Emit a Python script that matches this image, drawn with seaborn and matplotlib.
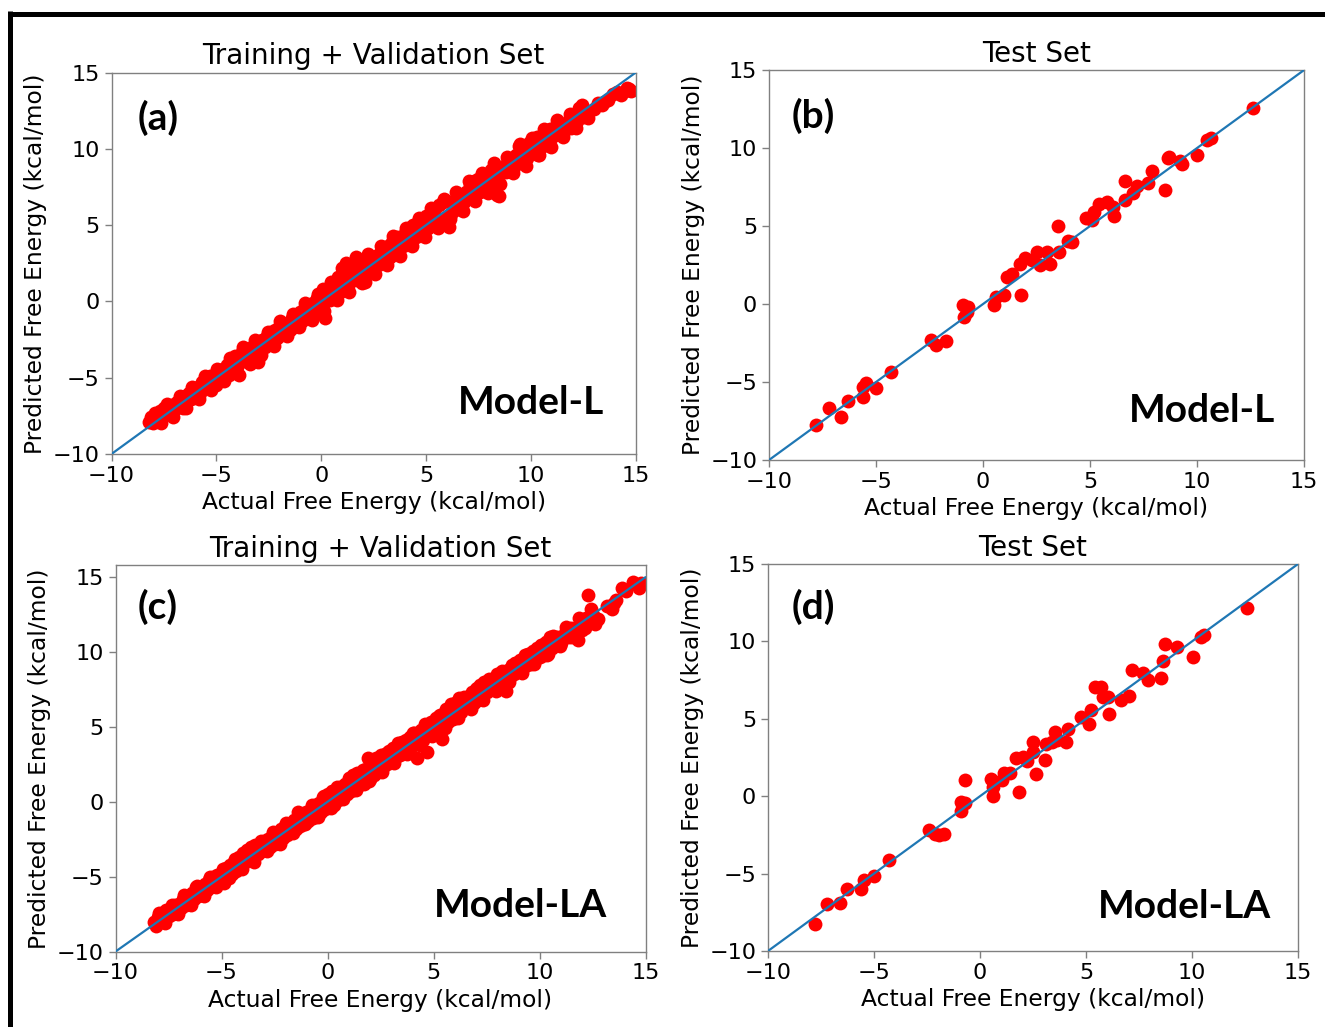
import matplotlib
matplotlib.use("Agg")
import matplotlib.pyplot as plt
from matplotlib.lines import Line2D
import seaborn as sns
import pandas as pd

# ---- data ----
# (a) Model-L, training + validation
train_L_actual = [
    -8.2, -8.1, -8.0, -7.9, -7.8, -7.7, -7.6, -7.5, -7.4, -7.3, -7.2, -7.1, -7.0, -6.9, -6.8, -6.7,
    -6.6, -6.5, -6.4, -6.3, -6.2, -6.1, -6.0,
    -5.9, -5.8, -5.7, -5.6, -5.5, -5.4, -5.3, -5.2, -5.1, -5.0, -4.9, -4.8, -4.7, -4.6, -4.5, -4.4,
    -4.3, -4.2, -4.1, -4.0, -3.9, -3.8, -3.7, -3.6, -3.5, -3.4, -3.3, -3.2, -3.1, -3.0, -2.9,
    -2.8, -2.7, -2.6, -2.5, -2.4, -2.3, -2.2, -2.1, -2.0, -1.9, -1.8, -1.7, -1.6, -1.5, -1.4, -1.3,
    -1.2, -1.1, -1.0, -0.9, -0.8, -0.7, -0.6, -0.5, -0.4, -0.3, -0.2, -0.1, 0.0, 0.1, 0.2, 0.3, 0.1,
    0.4, 0.5, 0.6, 0.7, 0.8, 0.9, 1.0, 1.1, 1.2, 1.3, 1.4, 1.5, 1.6, 1.7, 1.8, 1.9, 2.0, 2.1, 2.2,
    2.3, 2.4, 2.5, 2.6, 2.7, 2.8, 2.9, 3.0, 3.1,
    3.2, 3.3, 3.4, 3.5, 3.6, 3.7, 3.8, 3.9, 4.0, 4.1, 4.2, 4.3, 4.4, 4.5, 4.6, 4.7, 4.8, 4.9, 5.0,
    5.1, 5.2, 5.3, 5.4, 5.5, 5.6, 5.7, 5.8, 5.9, 6.0, 6.1, 6.2,
    6.3, 6.4, 6.5, 6.6, 6.7, 6.8, 6.9, 7.0, 7.1, 7.2, 7.3, 7.4, 7.5, 7.6, 7.7, 7.8, 7.9, 8.0, 8.1,
    8.2, 8.3, 8.4, 8.5, 8.6, 8.7, 8.8, 8.9, 9.0,
    9.1, 9.2, 9.3, 9.4, 9.5, 9.6, 9.7, 9.8, 9.9, 10.0, 10.1, 10.2, 10.3, 10.4, 10.5, 10.6, 10.7,
    10.8, 10.9, 11.0, 11.2, 11.3, 11.5, 11.6, 11.8, 11.9,
    12.1, 12.2, 12.3, 12.4, 12.5, 12.6, 13.2, 13.4, 13.5, 13.9, 14.1, 14.5, 14.7, 14.8,
    # outer edge of the band
    -7.95, -7.65, -7.35, -7.05, -6.75, -6.45, -6.15, -5.85, -5.55, -5.25, -4.95, -4.65, -4.35,
    -4.05, -3.75, -3.45, -3.15, -2.85, -2.55, -2.25, -1.95, -1.65, -1.35, -1.05, -0.75, -0.45,
    -0.15, 0.15, 0.45, 0.75, 1.05, 1.35, 1.65, 1.95, 2.25, 2.55, 2.85, 3.15, 3.45, 3.75, 4.05,
    4.35, 4.65, 4.95, 5.25, 5.55, 5.85, 6.15, 6.45, 6.75, 7.05, 7.35, 7.65, 7.95, 8.25, 8.55,
    8.85, 9.15, 9.45, 9.75, 10.05, 10.35, 10.65, 10.95, 11.25, 11.55, 11.85, 12.15, 12.45, 12.75,
    13.0, 13.7, 14.3, 14.6,
]
train_L_pred = [
    -7.9, -7.6, -8.0, -7.4, -7.5, -7.2, -7.6, -7.0, -7.3, -6.9, -7.4, -6.8, -7.1, -6.6, -6.9, -6.4,
    -7.0, -6.2, -6.5, -6.0, -6.4, -5.8, -6.2,
    -5.6, -6.0, -5.3, -5.7, -5.0, -5.6, -4.9, -5.3, -4.8, -5.5, -4.6, -5.1, -4.4, -4.9, -4.2, -4.8,
    -4.0, -4.5, -3.6, -4.3, -4.8, -3.3, -3.9, -3.1, -3.7, -4.1, -3.0, -3.5, -2.8, -4.0, -3.3,
    -2.5, -3.0, -2.3, -2.7, -2.0, -2.6, -1.9, -2.4, -1.7, -2.2, -1.5, -2.0, -1.4, -1.9, -1.1, -1.7,
    -0.9, -1.5, -0.7, -1.3, -0.5, -1.1, -0.3, -0.9, -0.1, -0.7, 0.2, -0.5, 0.4, -0.2, -1.1, 0.6, 0.8,
    0.1, 1.0, 0.3, 0.9, 1.6, 0.6, 2.2, 1.3, 2.5, 1.0, 2.4, 1.6, 2.6, 1.4, 2.5, 1.9, 2.7, 1.3, 2.5,
    2.0, 2.8, 2.2, 3.0, 2.4, 3.2, 2.6, 3.3, 2.8,
    3.6, 2.9, 3.9, 3.2, 4.2, 3.4, 4.0, 3.6, 4.5, 3.8, 4.8, 4.0, 5.0, 4.2, 5.2, 4.5, 5.4, 4.7, 5.6,
    4.8, 5.7, 5.0, 6.0, 5.2, 6.3, 5.4, 6.5, 5.5, 6.6, 4.9, 5.7,
    6.5, 6.0, 6.8, 6.2, 7.0, 6.5, 7.2, 6.8, 7.6, 6.9, 7.9, 7.1, 8.0, 7.2, 8.2, 7.5, 8.3, 7.6, 8.6,
    7.8, 7.5, 7.0, 6.9, 8.4, 8.9, 8.5, 9.1, 8.6,
    9.4, 8.8, 9.6, 9.1, 10.3, 9.3, 10.0, 9.4, 10.4, 9.7, 10.5, 9.9, 10.8, 9.6, 10.7, 10.2, 11.1,
    10.6, 11.3, 10.8, 11.5, 11.0, 11.6, 11.2, 11.9, 11.4,
    12.0, 11.8, 12.7, 12.2, 12.1, 12.5, 13.0, 12.9, 13.1, 13.6, 13.7, 13.8, 13.9, 13.8,
    -7.3, -8.0, -6.7, -7.6, -6.2, -7.0, -5.6, -6.4, -4.9, -5.8, -4.4, -5.2, -3.7,
    -4.7, -3.0, -4.0, -2.5, -3.5, -2.0, -2.9, -1.3, -2.3, -0.8, -1.7, -0.1, -1.2,
    0.5, -0.6, 1.3, 0.1, 1.9, 0.6, 2.9, 1.2, 3.1, 1.8, 3.6, 2.4, 4.3, 3.0, 4.8,
    3.6, 5.5, 4.2, 6.1, 4.8, 6.7, 5.4, 7.2, 5.9, 7.9, 6.6, 8.4, 7.1, 9.1, 7.7,
    9.5, 8.4, 10.2, 8.9, 10.7, 9.6, 11.3, 10.1, 11.9, 10.8, 12.3, 11.4, 12.9, 12.0,
    12.6, 13.2, 13.5, 14.0,
]

# (b) Model-L, test set
test_L_actual = [
    -7.82, -7.22, -6.63, -6.33, -5.60, -5.60, -5.46, -5.00, -4.31, -2.42, -2.18, -1.71, -0.93,
    -0.69, -0.89, -0.73, 0.52, 0.62, 0.99, 1.79, 1.11, 1.37, 1.71, 1.98, 2.30, 2.50, 2.64, 2.98,
    3.15, 3.53, 3.49, 3.99, 4.17, 4.82, 5.08, 5.18, 5.42, 5.77, 6.07, 6.11, 6.61, 6.61, 7.00, 7.20,
    7.70, 7.90, 8.49, 8.63, 8.69, 9.29, 9.19, 9.98, 10.48, 10.63, 12.60,
]
test_L_pred = [
    -7.76, -6.69, -7.26, -6.22, -5.98, -5.34, -5.09, -5.41, -4.34, -2.31, -2.63, -2.35, -0.06,
    -0.21, -0.81, -0.49, -0.06, 0.47, 0.58, 0.56, 1.75, 1.92, 2.54, 2.93, 2.82, 3.31, 2.50, 3.35,
    2.54, 3.35, 5.02, 4.06, 3.97, 5.53, 5.38, 5.90, 6.41, 6.52, 6.24, 5.64, 6.67, 7.88, 7.14, 7.56,
    7.78, 8.55, 7.31, 9.34, 9.44, 8.95, 9.19, 9.55, 10.51, 10.66, 12.54,
]

# (c) Model-LA, training + validation
train_LA_actual = [
    -8.2, -8.1, -8.0, -7.9, -7.8, -7.7, -7.6, -7.5, -7.4, -7.3, -7.2, -7.1, -7.0, -6.9, -6.8, -6.7,
    -6.6, -6.5, -6.4, -6.3, -6.2, -6.1,
    -6.0, -5.9, -5.8, -5.7, -5.6, -5.5, -5.4, -5.3, -5.2, -5.1, -5.0, -4.9, -4.8, -4.7, -4.6, -4.5,
    -4.4, -4.3, -4.2, -4.1, -4.0, -3.9, -3.8, -3.7, -3.6, -3.5, -3.4, -3.3, -3.2, -3.1, -3.0, -2.9,
    -2.8, -2.7, -2.6, -2.5, -2.4, -2.3, -2.2, -2.1, -2.0, -1.9, -1.8, -1.7, -1.6, -1.5, -1.4, -1.3,
    -1.2, -1.1, -1.0, -0.9, -0.8, -0.7, -0.6, -0.5, -0.4, -0.3, -0.2, -0.1, 0.0, 0.1, 0.2, 0.3,
    0.4, 0.5, 0.6, 0.7, 0.8, 0.9, 1.0, 1.1, 1.2, 1.3, 1.4, 1.5, 1.6, 1.7, 1.8, 1.9, 2.0, 2.1, 2.2,
    2.3, 2.4, 2.5, 2.6, 2.7, 2.8, 2.9, 3.0, 3.1,
    3.2, 3.3, 3.4, 3.5, 3.6, 3.7, 3.8, 3.9, 4.0, 4.1, 4.2, 4.3, 4.4, 4.5, 4.6, 4.7, 4.8, 4.9, 5.0,
    5.1, 5.2, 5.3, 5.4, 5.5, 5.6, 5.7, 5.8, 5.9, 6.0, 6.1,
    6.2, 6.3, 6.4, 6.5, 6.6, 6.7, 6.8, 6.9, 7.0, 7.1, 7.2, 7.3, 7.4, 7.5, 7.6, 7.7, 7.8, 7.9, 8.0,
    8.1, 8.2, 8.3, 8.4, 8.5, 8.6, 8.7, 8.8, 8.9, 9.0,
    9.1, 9.2, 9.3, 9.4, 9.5, 9.6, 9.7, 9.8, 9.9, 10.0, 10.1, 10.2, 10.3, 10.4, 10.5, 10.6, 10.8,
    11.0, 11.2, 11.4, 11.5, 11.7, 11.8, 11.9, 12.0,
    12.2, 12.3, 12.4, 12.5, 12.6, 13.2, 13.4, 13.5, 13.9, 14.4, 14.7, 14.8,
    # outer edge of the band
    -7.95, -7.65, -7.35, -7.05, -6.75, -6.45, -6.15, -5.85, -5.55, -5.25, -4.95, -4.65, -4.35,
    -4.05, -3.75, -3.45, -3.15, -2.85, -2.55, -2.25, -1.95, -1.65, -1.35, -1.05, -0.75, -0.45,
    -0.15, 0.15, 0.45, 0.75, 1.05, 1.35, 1.65, 1.95, 2.25, 2.55, 2.85, 3.15, 3.45, 3.75, 4.05,
    4.35, 4.65, 4.95, 5.25, 5.55, 5.85, 6.15, 6.45, 6.75, 7.05, 7.35, 7.65, 7.95, 8.25, 8.55,
    8.85, 9.15, 9.45, 9.75, 10.05, 10.35, 10.65, 10.95, 11.25, 11.55, 11.85, 12.15, 12.45, 12.75,
    13.6, 14.1,
]
train_LA_pred = [
    -8.0, -8.3, -7.7, -8.0, -7.4, -7.8, -7.2, -7.6, -7.1, -7.5, -6.9, -7.4, -6.8, -7.1, -6.5, -6.9,
    -6.3, -6.7, -6.1, -6.5, -5.7, -6.3,
    -5.8, -6.2, -5.5, -5.9, -5.2, -5.7, -5.0, -5.5, -4.9, -5.3, -4.8, -5.4, -4.4, -4.9, -4.2, -4.8,
    -4.0, -4.6, -3.7, -4.3, -3.4, -4.0, -3.2, -3.8, -3.0, -3.6, -2.9, -3.5, -2.8, -3.3, -2.6, -3.2,
    -2.5, -3.0, -2.3, -2.8, -2.1, -2.6, -1.8, -2.4, -1.6, -2.2, -1.5, -2.0, -1.2, -1.8, -0.7, -1.6,
    -0.9, -1.5, -0.7, -1.3, -0.5, -1.1, -0.2, -0.9, -0.1, -0.7, 0.3, -0.5, 0.5, -0.3, 0.7, -0.2,
    0.8, 0.1, 1.0, 0.3, 1.2, 0.5, 1.6, 0.7, 1.8, 0.9, 1.9, 1.1, 1.9, 1.2, 2.2, 2.9, 1.5, 2.5, 1.8,
    2.9, 2.0, 3.1, 2.3, 3.2, 2.5, 3.4, 2.7, 3.6,
    2.9, 3.9, 3.1, 4.0, 3.3, 4.1, 3.5, 4.3, 3.7, 4.6, 2.9, 4.0, 4.8, 4.1, 5.2, 3.3, 4.5, 5.3, 4.7,
    5.6, 4.8, 5.8, 4.2, 5.2, 6.2, 5.3, 6.5, 5.5, 6.6, 5.8,
    6.9, 6.0, 6.8, 6.4, 7.0, 6.5, 7.3, 6.6, 7.5, 6.8, 7.8, 7.0, 8.0, 7.3, 8.2, 7.6, 8.1, 7.6, 8.5,
    7.8, 8.6, 7.6, 7.4, 8.8, 8.3, 9.1, 8.5, 9.3, 8.7,
    9.5, 8.9, 9.8, 9.1, 9.9, 9.2, 10.1, 9.5, 10.3, 9.7, 10.5, 9.8, 10.7, 9.9, 11.0, 10.3, 11.0,
    10.6, 11.3, 11.0, 11.6, 11.2, 10.8, 11.9, 11.5,
    12.3, 13.8, 12.0, 12.5, 11.9, 13.1, 12.9, 13.3, 14.3, 14.7, 14.3, 14.6,
    -7.4, -8.1, -6.9, -7.5, -6.2, -6.9, -5.6, -6.3, -5.0, -5.7, -4.5, -5.1, -3.8,
    -4.5, -3.2, -4.0, -2.6, -3.3, -2.0, -2.8, -1.4, -2.1, -0.9, -1.5, -0.2, -1.0,
    0.4, -0.4, 1.0, 0.2, 1.6, 0.8, 2.1, 1.4, 2.7, 2.0, 3.3, 2.6, 3.9, 3.2, 4.6,
    3.8, 5.1, 4.4, 5.7, 4.9, 6.3, 5.6, 7.0, 6.2, 7.6, 6.8, 8.1, 7.4, 8.7, 8.0,
    9.3, 8.6, 9.9, 9.2, 10.5, 9.8, 11.1, 10.4, 11.7, 11.0, 12.3, 11.6, 12.9, 12.2,
    13.5, 14.1,
]

# (d) Model-LA, test set
test_LA_actual = [
    -7.80, -7.20, -6.59, -6.29, -5.59, -5.49, -4.99, -4.29, -2.39, -2.13, -1.93, -1.69, -0.89,
    -0.89, -0.69, -0.72, 0.62, 0.62, 0.52, 1.02, 1.12, 1.42, 1.82, 1.72, 2.02, 2.22, 2.48, 2.52,
    2.62, 3.08, 3.12, 3.42, 3.52, 3.62, 4.08, 4.16, 4.78, 5.12, 5.22, 5.42, 5.72, 5.82, 6.03, 6.09,
    6.63, 7.03, 7.19, 7.69, 7.93, 8.53, 8.63, 8.73, 9.29, 10.03, 10.43, 10.59, 12.60,
]
test_LA_pred = [
    -8.23, -6.94, -6.90, -5.97, -5.97, -5.43, -5.17, -4.14, -2.16, -2.41, -2.52, -2.41, -0.37,
    -0.95, -0.47, 1.03, 0.00, 0.60, 1.14, 1.03, 1.51, 1.53, 0.28, 2.48, 2.54, 2.28, 2.87, 3.51,
    1.42, 2.37, 3.36, 3.51, 4.16, 3.66, 3.51, 4.31, 5.09, 4.66, 5.56, 7.07, 7.07, 6.42, 6.42, 5.34,
    6.21, 6.47, 8.15, 7.97, 7.54, 7.61, 8.75, 9.83, 9.66, 9.01, 10.30, 10.41, 12.13,
]

identity = [-10, 15]
titles = ["Training + Validation Set", "Test Set", "Training + Validation Set", "Test Set"]
panel_tags = ["(a)", "(b)", "(c)", "(d)"]
model_names = ["Model-L", "Model-L", "Model-LA", "Model-LA"]

panels = [
    (train_L_actual, train_L_pred),
    (test_L_actual, test_L_pred),
    (train_LA_actual, train_LA_pred),
    (test_LA_actual, test_LA_pred),
]

# axes placement [left, bottom, width, height] in figure fraction
rects = [
    [0.0842, 0.558, 0.3955, 0.3713],
    [0.5804, 0.5521, 0.4038, 0.3797],
    [0.0872, 0.0735, 0.4000, 0.3759],
    [0.5796, 0.0740, 0.4000, 0.3768],
]
ylims = [(-10, 15), (-10, 15), (-10, 15.78), (-10, 15)]
tag_pos = [(0.049, 0.881), (0.043, 0.882), (0.041, 0.892), (0.045, 0.889)]
name_pos = [(0.940, 0.134), (0.946, 0.126), (0.927, 0.120), (0.949, 0.116)]

sns.set_style("ticks")
plt.rcParams["font.family"] = ["DejaVu Sans"]
plt.rcParams["text.color"] = "black"
plt.rcParams["axes.labelcolor"] = "black"
plt.rcParams["axes.edgecolor"] = "#808080"
plt.rcParams["xtick.color"] = "#808080"
plt.rcParams["ytick.color"] = "#808080"
plt.rcParams["xtick.labelcolor"] = "black"
plt.rcParams["ytick.labelcolor"] = "black"

fig = plt.figure(figsize=(13.25, 10.27), dpi=100)
fig.patch.set_facecolor("white")

for i in range(4):
    ax = fig.add_axes(rects[i])
    actual, pred = panels[i]
    df = pd.DataFrame({"actual": actual, "pred": pred})
    sns.scatterplot(data=df, x="actual", y="pred", ax=ax, color="red", s=100,
                    linewidth=0, alpha=1.0, zorder=2)
    ax.plot(identity, identity, color="#1f77b4", lw=1.6, zorder=3)
    ax.set_xlim(-10, 15)
    ax.set_ylim(*ylims[i])
    ax.set_xticks([-10, -5, 0, 5, 10, 15])
    ax.set_yticks([-10, -5, 0, 5, 10, 15])
    ax.tick_params(labelsize=16, width=1.0, length=5)
    for sp in ax.spines.values():
        sp.set_linewidth(1.0)
        sp.set_color("#808080")
    ax.set_title(titles[i], fontsize=20, color="black")
    ax.set_xlabel("Actual Free Energy (kcal/mol)", fontsize=16.8)
    ax.set_ylabel("Predicted Free Energy (kcal/mol)", fontsize=16.8)
    ax.text(tag_pos[i][0], tag_pos[i][1], panel_tags[i], transform=ax.transAxes,
            ha="left", va="center", fontsize=28, fontweight="bold", color="black",
            family=["Lato", "DejaVu Sans"])
    ax.text(name_pos[i][0], name_pos[i][1], model_names[i], transform=ax.transAxes,
            ha="right", va="center", fontsize=28, fontweight="bold", color="black",
            family=["Lato", "DejaVu Sans"])

# black frame lines along top and left edge
fig.add_artist(Line2D([10 / 1325, 1.0], [1 - 13.5 / 1027] * 2, transform=fig.transFigure,
                      color="black", lw=3.6, solid_capstyle="butt"))
fig.add_artist(Line2D([10 / 1325] * 2, [0.0, 1 - 11 / 1027], transform=fig.transFigure,
                      color="black", lw=3.6, solid_capstyle="butt"))

fig.savefig("out.png", dpi=100)
